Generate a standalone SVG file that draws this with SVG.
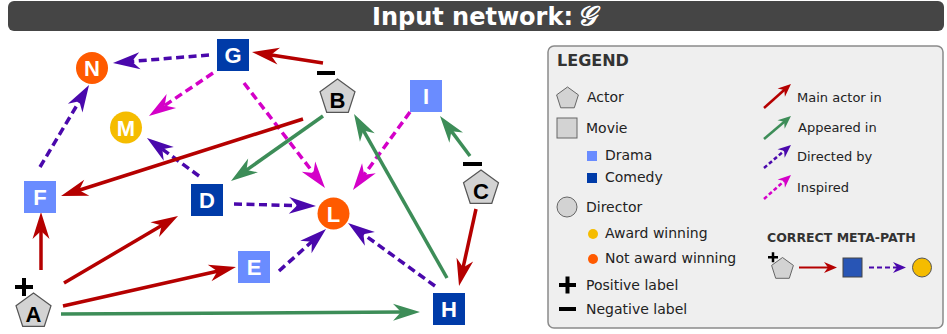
<svg xmlns="http://www.w3.org/2000/svg" width="947" height="334" viewBox="0 0 947 334">
<style>
.lbl{font-family:"Liberation Sans",Arial,sans-serif;font-weight:bold;font-size:22px;text-anchor:middle}
.w{fill:#fff}
.k{fill:#000}
.act{fill:#d3d3d3;stroke:#555;stroke-width:1.2}
.drama{fill:#6a8cff}
.comedy{fill:#003ba8}
.notaw{fill:#ff5a00}
.aw{fill:#f5bc00}
.e{fill:none;stroke-width:3.5}
.red{stroke:#b50000}
.grn{stroke:#3d8d58}
.pur{stroke:#4a08ac;stroke-dasharray:8 4.5}
.mag{stroke:#d400c8;stroke-dasharray:8 4.5}
.lt{font-family:"DejaVu Sans",sans-serif;font-size:14px;fill:#222}
.ls{font-family:"DejaVu Sans",sans-serif;font-size:13px;fill:#222}
.sign{fill:#000}
</style>
<defs>
<marker id="hR" markerUnits="userSpaceOnUse" viewBox="-30 -10 30 20" markerWidth="30" markerHeight="20" refX="-18" refY="0" orient="auto"><path d="M0,0 L-27,-8.5 L-19,0 L-27,8.5 Z" fill="#b50000"/></marker>
<marker id="hG" markerUnits="userSpaceOnUse" viewBox="-30 -10 30 20" markerWidth="30" markerHeight="20" refX="-18" refY="0" orient="auto"><path d="M0,0 L-27,-8.5 L-19,0 L-27,8.5 Z" fill="#3d8d58"/></marker>
<marker id="hP" markerUnits="userSpaceOnUse" viewBox="-30 -10 30 20" markerWidth="30" markerHeight="20" refX="-18" refY="0" orient="auto"><path d="M0,0 L-27,-8.5 L-19,0 L-27,8.5 Z" fill="#4a08ac"/></marker>
<marker id="hM" markerUnits="userSpaceOnUse" viewBox="-30 -10 30 20" markerWidth="30" markerHeight="20" refX="-18" refY="0" orient="auto"><path d="M0,0 L-27,-8.5 L-19,0 L-27,8.5 Z" fill="#d400c8"/></marker>
<marker id="sR" markerUnits="userSpaceOnUse" viewBox="-15 -6 15 12" markerWidth="15" markerHeight="12" refX="-8" refY="0" orient="auto"><path d="M0,0 L-13,-5.5 L-9,0 L-13,5.5 Z" fill="#b50000"/></marker>
<marker id="sG" markerUnits="userSpaceOnUse" viewBox="-15 -6 15 12" markerWidth="15" markerHeight="12" refX="-8" refY="0" orient="auto"><path d="M0,0 L-13,-5.5 L-9,0 L-13,5.5 Z" fill="#3d8d58"/></marker>
<marker id="sP" markerUnits="userSpaceOnUse" viewBox="-15 -6 15 12" markerWidth="15" markerHeight="12" refX="-8" refY="0" orient="auto"><path d="M0,0 L-13,-5.5 L-9,0 L-13,5.5 Z" fill="#4a08ac"/></marker>
<marker id="sM" markerUnits="userSpaceOnUse" viewBox="-15 -6 15 12" markerWidth="15" markerHeight="12" refX="-8" refY="0" orient="auto"><path d="M0,0 L-13,-5.5 L-9,0 L-13,5.5 Z" fill="#d400c8"/></marker>
<path id="pent" d="M0,-18.4 L17.5,-5.7 L10.8,14.9 L-10.8,14.9 L-17.5,-5.7 Z"/>
<path id="pentS" d="M0,-11.5 L10.9,-3.6 L6.8,9.3 L-6.8,9.3 L-10.9,-3.6 Z"/>
</defs>

<g id="title">
<rect x="8" y="1" width="936" height="30" rx="6" fill="#454545"/>
<text x="372" y="25" font-family="DejaVu Sans,sans-serif" font-weight="bold" font-size="24" fill="#fff">Input network:<tspan dx="4" font-family="DejaVu Serif,serif" font-style="italic" font-weight="normal" font-size="27" stroke="#fff" stroke-width="0.9">𝒢</tspan></text>
</g>

<g id="connectors">
<line class="e red" x1="323" y1="63" x2="269.8" y2="54.8" marker-end="url(#hR)"/>
<line class="e pur" x1="209" y1="55" x2="130.9" y2="61.5" marker-end="url(#hP)"/>
<line class="e mag" x1="213" y1="73" x2="163.9" y2="106" marker-end="url(#hM)"/>
<line class="e mag" x1="244" y1="83" x2="314" y2="173.7" marker-end="url(#hM)"/>
<line class="e pur" x1="40" y1="167" x2="79.8" y2="100.5" marker-end="url(#hP)"/>
<line class="e pur" x1="199" y1="176" x2="161.5" y2="148.6" marker-end="url(#hP)"/>
<line class="e red" x1="303" y1="119" x2="78.2" y2="190.5" marker-end="url(#hR)"/>
<line class="e grn" x1="323" y1="116" x2="245.7" y2="170.6" marker-end="url(#hG)"/>
<line class="e mag" x1="410" y1="112" x2="363.6" y2="175.5" marker-end="url(#hM)"/>
<line class="e grn" x1="447" y1="278" x2="362.9" y2="129.7" marker-end="url(#hG)"/>
<line class="e grn" x1="470" y1="156" x2="450.8" y2="130.4" marker-end="url(#hG)"/>
<line class="e red" x1="476" y1="209" x2="462.9" y2="268.4" marker-end="url(#hR)"/>
<line class="e pur" x1="234" y1="204" x2="298" y2="205.6" marker-end="url(#hP)"/>
<line class="e pur" x1="279" y1="271" x2="312.6" y2="241" marker-end="url(#hP)"/>
<line class="e pur" x1="435" y1="286" x2="362.6" y2="233.6" marker-end="url(#hP)"/>
<line class="e red" x1="41" y1="270" x2="41" y2="230" marker-end="url(#hR)"/>
<line class="e red" x1="64" y1="283" x2="162.5" y2="225.1" marker-end="url(#hR)"/>
<line class="e red" x1="63" y1="306" x2="218.4" y2="271" marker-end="url(#hR)"/>
<line class="e grn" x1="61" y1="314" x2="402" y2="312.1" marker-end="url(#hG)"/>
</g>

<g id="node-N"><circle cx="92" cy="68" r="16" class="notaw"/><text x="92" y="76" class="lbl w">N</text></g>
<g id="node-G"><rect x="217" y="39" width="32" height="32" class="comedy"/><text x="233" y="63" class="lbl w">G</text></g>
<g id="node-M"><circle cx="126" cy="127.5" r="16" class="aw"/><text x="126" y="135.5" class="lbl w">M</text></g>
<g id="node-B"><use href="#pent" x="337.5" y="97.4" class="act"/><text x="337.5" y="108" class="lbl k">B</text><rect x="317" y="71" width="18" height="4" class="sign"/></g>
<g id="node-I"><rect x="410" y="80" width="32" height="32" class="drama"/><text x="426" y="104" class="lbl w">I</text></g>
<g id="node-C"><use href="#pent" x="481" y="188.4" class="act"/><text x="481" y="199" class="lbl k">C</text><rect x="463" y="162" width="19" height="4" class="sign"/></g>
<g id="node-F"><rect x="24" y="181" width="32" height="32" class="drama"/><text x="40" y="205" class="lbl w">F</text></g>
<g id="node-D"><rect x="191" y="184" width="32" height="32" class="comedy"/><text x="207" y="208" class="lbl w">D</text></g>
<g id="node-L"><circle cx="333.5" cy="213.5" r="16" class="notaw"/><text x="333.5" y="221.5" class="lbl w">L</text></g>
<g id="node-E"><rect x="238" y="251" width="32" height="32" class="drama"/><text x="254" y="275" class="lbl w">E</text></g>
<g id="node-H"><rect x="433" y="293" width="32" height="32" class="comedy"/><text x="449" y="317" class="lbl w">H</text></g>
<g id="node-A"><use href="#pent" x="33.5" y="311.4" class="act"/><text x="33.5" y="322" class="lbl k">A</text><rect x="15" y="285" width="18" height="4" class="sign"/><rect x="22" y="278" width="4" height="18" class="sign"/></g>

<g id="legend">
<rect x="548" y="46" width="395" height="282" rx="6" fill="#efefef" stroke="#8a8a8a" stroke-width="1.5"/>
<text x="557" y="66" font-family="DejaVu Sans,sans-serif" font-weight="bold" font-size="16" fill="#333">LEGEND</text>
<use href="#pentS" x="567.5" y="98.5" fill="#d3d3d3" stroke="#666" stroke-width="1"/>
<text x="587" y="102" class="lt">Actor</text>
<rect x="557" y="118" width="20" height="20" fill="#d3d3d3" stroke="#666" stroke-width="1"/>
<text x="586" y="133" class="lt">Movie</text>
<rect x="587" y="151" width="10" height="10" class="drama"/>
<text x="605" y="160" class="lt">Drama</text>
<rect x="587" y="173" width="10" height="10" class="comedy"/>
<text x="605" y="182" class="lt">Comedy</text>
<circle cx="567" cy="207" r="10" fill="#d3d3d3" stroke="#666" stroke-width="1"/>
<text x="586" y="212" class="lt">Director</text>
<circle cx="593" cy="234" r="5" class="aw"/>
<text x="605" y="238" class="lt">Award winning</text>
<circle cx="593" cy="259" r="5" class="notaw"/>
<text x="605" y="263" class="lt">Not award winning</text>
<rect x="559" y="283" width="17" height="4" class="sign"/><rect x="565.5" y="276.5" width="4" height="17" class="sign"/>
<text x="586" y="290" class="lt">Positive label</text>
<rect x="559" y="307" width="17" height="4" class="sign"/>
<text x="586" y="314" class="lt">Negative label</text>

<line x1="764" y1="108" x2="785" y2="89.3" stroke="#b50000" stroke-width="2.5" marker-end="url(#sR)"/>
<text x="797" y="102" class="ls">Main actor in</text>
<line x1="764" y1="139" x2="784.9" y2="121.2" stroke="#3d8d58" stroke-width="2.5" marker-end="url(#sG)"/>
<text x="798" y="132" class="ls">Appeared in</text>
<line x1="764" y1="168" x2="784.9" y2="150.2" stroke="#4a08ac" stroke-width="2.5" stroke-dasharray="4 2.5" marker-end="url(#sP)"/>
<text x="797" y="161" class="ls">Directed by</text>
<line x1="764" y1="199" x2="785" y2="180.3" stroke="#d400c8" stroke-width="2.5" stroke-dasharray="4 2.5" marker-end="url(#sM)"/>
<text x="797" y="192" class="ls">Inspired</text>

<text x="767" y="242" font-family="DejaVu Sans,sans-serif" font-weight="bold" font-size="12.5" fill="#333">CORRECT META-PATH</text>
<rect x="768" y="256" width="10" height="2.5" class="sign"/><rect x="771.75" y="252.25" width="2.5" height="10" class="sign"/>
<use href="#pentS" x="782.5" y="269" fill="#d3d3d3" stroke="#666" stroke-width="1"/>
<line x1="799" y1="267.5" x2="829" y2="267.5" stroke="#b50000" stroke-width="2" marker-end="url(#sR)"/>
<rect x="843" y="258" width="19" height="19" fill="#2855b5" stroke="#444" stroke-width="1"/>
<line x1="869" y1="267.5" x2="898" y2="267.5" stroke="#4a08ac" stroke-width="2" stroke-dasharray="5 3" marker-end="url(#sP)"/>
<circle cx="922" cy="267.5" r="9.5" fill="#f5bc00" stroke="#555" stroke-width="1"/>
</g>
</svg>
